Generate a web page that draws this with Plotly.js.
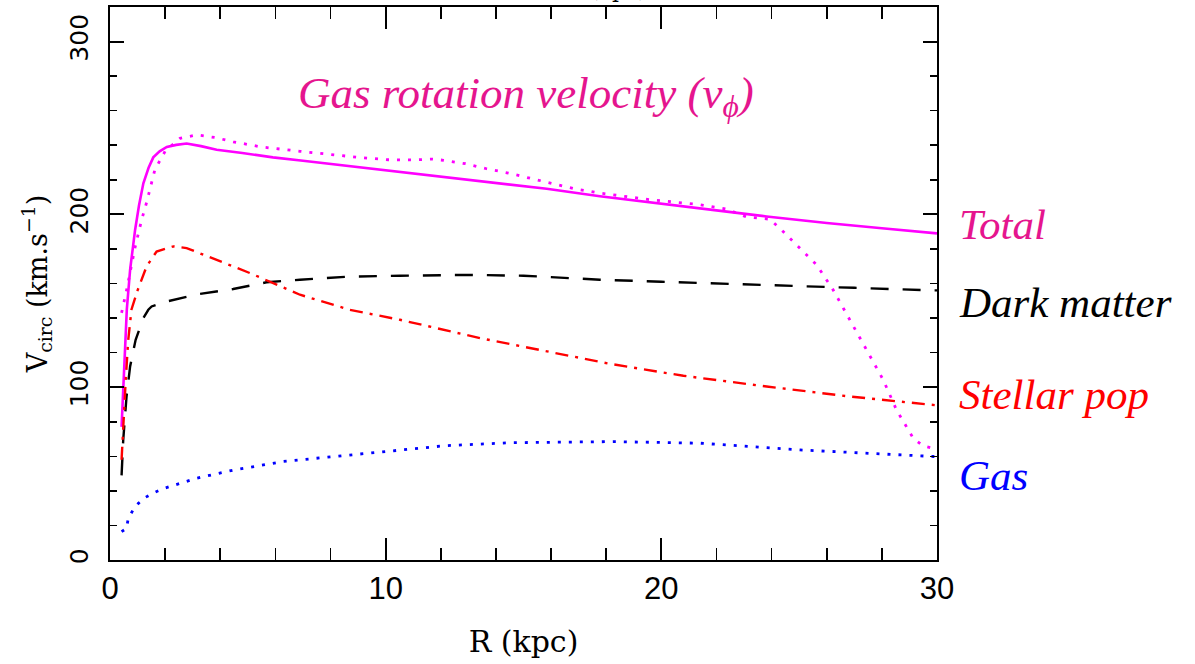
<!DOCTYPE html>
<html>
<head>
<meta charset="utf-8">
<script src="https://cdn.plot.ly/plotly-3.0.1.min.js"></script>
<style>
  html, body { margin: 0; padding: 0; background: #ffffff; }
  #chart { width: 1195px; height: 664px; }
</style>
</head>
<body>
<div id="chart"></div>
<script>
// ---- Data ----
// Total circular velocity (solid magenta)
const totalR = [0.42, 0.48, 0.54, 0.61, 0.73, 0.91, 1.05, 1.21, 1.4, 1.57, 1.8, 2.06, 2.4, 2.78, 3.3, 3.87, 4.8, 5.91, 7.0, 8.09, 9.2, 10.52, 12.0, 14.0, 15.84, 17.77, 20.0, 22.0, 23.82, 26.0, 28.0, 30.0];
const totalV = [77, 98, 120, 145, 168, 191, 205, 218, 227, 233, 236.5, 239, 240.2, 241, 239.5, 237.4, 235.5, 233, 231, 229, 227, 224.5, 221.5, 218, 214.8, 210.5, 206, 202.3, 198.8, 195, 192, 189];

// Gas rotation velocity v_phi (dotted magenta)
const rotR = [0.42, 0.6, 0.91, 1.15, 1.33, 1.63, 2.0, 2.54, 3.14, 3.8, 4.47, 5.5, 6.89, 8.0, 9.0, 10.1, 11.0, 11.7, 12.1, 12.9, 13.66, 14.45, 15.23, 16.0, 16.8, 17.77, 19.6, 21.4, 22.37, 23.09, 23.94, 24.36, 25.03, 25.63, 26.23, 26.84, 27.44, 28.05, 28.53, 29.14, 29.5, 29.87, 30.0];
const rotV = [143, 156, 181, 197, 207, 226, 236.5, 244, 246, 244.5, 242, 239, 236.5, 234.5, 233, 231.6, 231.5, 232, 231.3, 229.3, 226.4, 223.9, 221, 218, 215, 212.3, 208.5, 205.6, 203, 198.5, 197.2, 191, 180.5, 170.8, 156.4, 139, 121.6, 104.2, 86.9, 70.4, 66, 64.6, 64];

// Dark matter (dashed black)
const dmR = [0.42, 0.48, 0.6, 0.73, 0.93, 1.21, 1.39, 1.51, 2.06, 3.26, 4.47, 5.68, 6.89, 8.7, 10.52, 13.0, 15.0, 17.77, 20.0, 23.82, 27.0, 29.87, 30.0];
const dmV = [49, 69.5, 94.6, 112, 127.4, 140, 144.8, 146.7, 149.6, 154, 156.8, 160.7, 162.2, 164, 164.5, 165, 164.5, 162.2, 161, 159.3, 157.5, 156, 156];

// Stellar population (dash-dot red)
const starR = [0.42, 0.48, 0.57, 0.66, 0.78, 1.0, 1.33, 1.69, 2.3, 2.78, 3.87, 5.08, 6.89, 8.7, 10.52, 13.42, 18.14, 20.8, 23.82, 26.84, 30.0];
const starV = [58, 79, 104, 127, 145, 156, 170, 178.5, 181.5, 180.5, 173.7, 166, 153.5, 144.8, 139, 128.4, 113.5, 106.6, 100.4, 94.6, 89.5];

// Gas (dotted blue)
const gasR = [0.42, 0.6, 0.66, 0.84, 1.03, 1.29, 1.63, 1.97, 3.14, 4.47, 6.29, 8.1, 9.8, 12.2, 14.6, 18.26, 21.4, 25.03, 29.87, 30.0];
const gasV = [16.4, 18.3, 24, 29, 32.8, 36.3, 39.2, 41.5, 47.3, 52, 57, 59.9, 62.3, 66.2, 67.9, 68.5, 67.6, 63.7, 59.9, 59.8];

// Labels
const seriesLabels = ["Total", "Dark matter", "Stellar pop", "Gas"];
const seriesLabelColors = ["#e5158e", "#000000", "#ff0000", "#0000ff"];
const seriesLabelV = [194, 149, 96, 49];
const titleText = "Gas rotation velocity (v<sub>ϕ</sub>)";
const xTitle = "R (kpc)";
const yTitle = "V<sub>circ</sub> (km.s<sup>−1</sup>)";

// ---- Traces ----
const traces = [
  {x: totalR, y: totalV, mode: 'lines', name: 'Total', line: {color: '#ff00ff', width: 2.6}},
  {x: rotR, y: rotV, mode: 'lines', name: 'v_phi', line: {color: '#ff00ff', width: 2.8, dash: '3px,8px'}},
  {x: dmR, y: dmV, mode: 'lines', name: 'Dark matter', line: {color: '#000000', width: 2.4, dash: '18px,14px'}},
  {x: starR, y: starV, mode: 'lines', name: 'Stellar pop', line: {color: '#ff0000', width: 2.4, dash: '13px,7px,3px,7px'}},
  {x: gasR, y: gasV, mode: 'lines', name: 'Gas', line: {color: '#0000ff', width: 2.8, dash: '3px,8px'}}
];

const annotations = seriesLabels.map((t, i) => ({
  xref: 'paper', yref: 'y', x: 1.0242, y: seriesLabelV[i],
  xanchor: 'left', yanchor: 'middle', showarrow: false,
  text: '<i>' + t + '</i>',
  font: {family: 'Liberation Serif', size: 43, color: seriesLabelColors[i]}
}));
annotations.push({
  xref: 'paper', yref: 'y', x: 0.503, y: 268.7,
  xanchor: 'center', yanchor: 'middle', showarrow: false,
  text: '<i>' + titleText + '</i>',
  font: {family: 'Liberation Serif', size: 45, color: '#e5158e'}
});
// partially clipped top-axis title (cropped in the reference too)
annotations.push({
  xref: 'paper', yref: 'paper', x: 0.615, y: 1, yshift: 3,
  xanchor: 'center', yanchor: 'bottom', showarrow: false,
  text: '(kpc)',
  font: {family: 'DejaVu Serif', size: 22, color: '#000000'}
});

const axisCommon = {
  showline: true, linecolor: '#000000', linewidth: 2,
  mirror: 'allticks', ticks: 'inside', tickcolor: '#000000',
  showgrid: false, zeroline: false, fixedrange: true
};

const layout = {
  width: 1195, height: 664,
  margin: {l: 110, r: 258, t: 7, b: 104, pad: 0},
  paper_bgcolor: '#ffffff', plot_bgcolor: '#ffffff',
  showlegend: false,
  xaxis: Object.assign({}, axisCommon, {
    range: [0, 30], dtick: 10, tick0: 0, ticklen: 22, tickwidth: 2,
    minor: {dtick: 2, ticklen: 12, tickwidth: 1.6, tickcolor: '#000000', ticks: 'inside'},
    tickfont: {family: 'Liberation Sans', size: 31, color: '#000000'},
    title: {text: xTitle, font: {family: 'DejaVu Serif', size: 30, color: '#000000'}, standoff: 26}
  }),
  yaxis: Object.assign({}, axisCommon, {
    range: [0, 320], dtick: 100, tick0: 0, ticklen: 14, tickwidth: 2,
    minor: {dtick: 20, ticklen: 7, tickwidth: 1.6, tickcolor: '#000000', ticks: 'inside'},
    tickangle: -90,
    ticklabelstandoff: 10,
    tickfont: {family: 'DejaVu Sans', size: 25, color: '#000000'},
    title: {text: yTitle, font: {family: 'DejaVu Serif', size: 27, color: '#000000'}, standoff: 10}
  }),
  annotations: annotations
};

Plotly.newPlot('chart', traces, layout, {displayModeBar: false, staticPlot: true});
</script>
</body>
</html>
